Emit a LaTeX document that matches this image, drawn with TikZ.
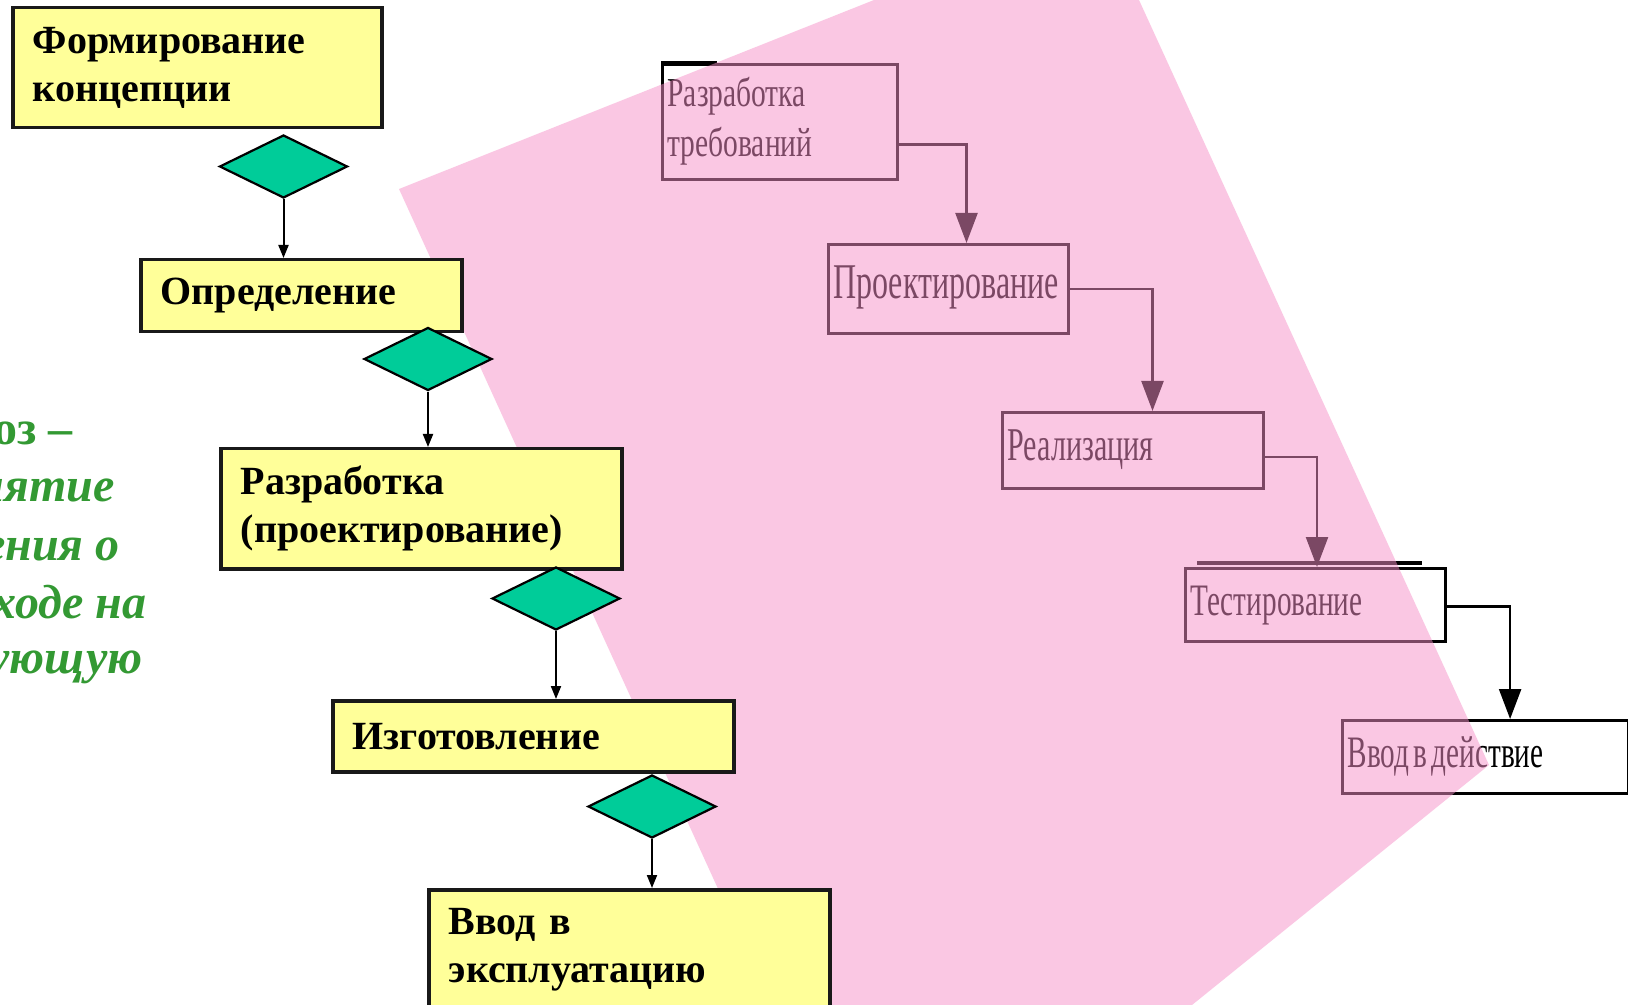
\documentclass[tikz,border=0pt]{standalone}
\usepackage{fontspec}
\setmainfont{Liberation Serif}
\usepackage{graphicx}
\usetikzlibrary{arrows.meta,shapes.geometric}
\definecolor{boxyellow}{RGB}{255,255,153}
\definecolor{diateal}{RGB}{0,204,153}
\definecolor{txtgreen}{RGB}{51,153,51}
\definecolor{pinkov}{RGB}{247,145,201}
\newcommand{\rtext}[3]{\scalebox{#1}[1]{\fontsize{#2}{25}\selectfont\begin{tabular}{@{}l@{}}#3\end{tabular}}}
\begin{document}
\begin{tikzpicture}[x=0.5pt,y=-0.5pt,
  ybox/.style={draw=black!90, line width=1.75pt, fill=boxyellow, anchor=north west,
    inner xsep=10pt, inner ysep=0pt, align=left,
    font=\fontsize{20}{24}\selectfont\bfseries},
  gate/.style={diamond, draw=black, line width=1.1pt, fill=diateal,
    minimum width=64pt, minimum height=31.5pt, inner sep=0pt},
  flow/.style={draw=black, line width=1pt, -{Triangle[width=5pt,length=6.5pt]}},
  rbox/.style={draw=black, line width=1.5pt, anchor=north west, inner xsep=2.5pt,
    inner ysep=0pt, align=left},
  rconn/.style={draw=black, line width=1.2pt, -{Triangle[width=11pt,length=15pt]}},
  gtext/.style={anchor=base east, inner sep=0pt, text=txtgreen,
    font=\fontsize{24}{28}\selectfont\bfseries}
]
\useasboundingbox (0,0) rectangle (1628,1005);
\fill[white] (0,0) rectangle (1628,1005);

% right diagram (under the pink overlay)
\node[rbox, text width=112.5pt, minimum height=57.5pt] (R1) at (661,63)
  {\rtext{0.72}{20.5}{Разработка\\требований}};
\node[rbox, text width=115pt, minimum height=44.5pt] (R2) at (827,243)
  {\rtext{0.64}{25}{Проектирование}};
\node[rbox, text width=125.5pt, minimum height=38pt] (R3) at (1001,411)
  {\rtext{0.64}{23.5}{Реализация}};
\node[rbox, text width=125pt, minimum height=36.5pt] (R4) at (1184,567)
  {\rtext{0.65}{22.5}{Тестирование}};
\node[rbox, text width=138pt, minimum height=36.5pt] (R5) at (1341,719)
  {\rtext{0.65}{22.5}{Ввод в действие}};
\draw[line width=2pt] ([shift={(6.5pt,2pt)}]R4.north west) -- ([shift={(119pt,2pt)}]R4.north west);
\draw[line width=2pt] (R1.north west) -- ([xshift=28pt]R1.north west);

\draw[rconn] ([yshift=-11.25pt]R1.east) -| ([xshift=9pt]R2.north);
\draw[rconn] (R2.east) -| ([xshift=9.75pt]R3.north);
\draw[rconn] ([yshift=-3.4pt]R3.east) -| ([xshift=0.75pt]R4.north);
\draw[rconn] ([yshift=-0.75pt]R4.east) -| ([xshift=12.3pt]R5.north);

% pink overlay
\fill[pinkov, fill opacity=0.5] (399,189) -- (874,0) -- (1139,0) -- (1489,765)
  -- (1192,1005) -- (771,1005) -- cycle;

% left column
\node[ybox, text width=164.5pt, minimum height=60pt] (B1) at (11,6)
  {Формирование\\концепции};
\node[gate] (D1) at (283.5,166.5) {};
\node[ybox, text width=140.5pt, minimum height=36pt] (B2) at (139,258)
  {Определение};
\node[gate] (D2) at (428,359) {};
\node[ybox, text width=180.5pt, minimum height=60pt] (B3) at (219,447)
  {Разработка\\(проектирование)};
\node[gate] (D3) at (556,598.5) {};
\node[ybox, text width=180.5pt, minimum height=35.5pt] (B4) at (331,699)
  {Изготовление};
\node[gate] (D4) at (652,806.5) {};
\node[ybox, text width=180.5pt, minimum height=60pt] (B5) at (427,888)
  {Ввод в\\эксплуатацию};

\draw[flow] (D1.south) -- (D1.south |- B2.north);
\draw[flow] (D2.south) -- (D2.south |- B3.north);
\draw[flow] (D3.south) -- (D3.south |- B4.north);
\draw[flow] (D4.south) -- (D4.south |- B5.north);

% green side text (cut by the left edge)
\node[gtext] (g1) at (73,445) {оз –};
\node[gtext, font=\fontsize{24}{28}\selectfont\bfseries\itshape] (g2) at (115,502) {нятие};
\node[gtext, font=\fontsize{24}{28}\selectfont\bfseries\itshape] (g3) at (120,560) {ения о};
\node[gtext, font=\fontsize{24}{28}\selectfont\bfseries\itshape] (g4) at (147,618) {ходе на};
\node[gtext, font=\fontsize{24}{28}\selectfont\bfseries\itshape] (g5) at (143,673) {ующую};
\end{tikzpicture}
\end{document}
